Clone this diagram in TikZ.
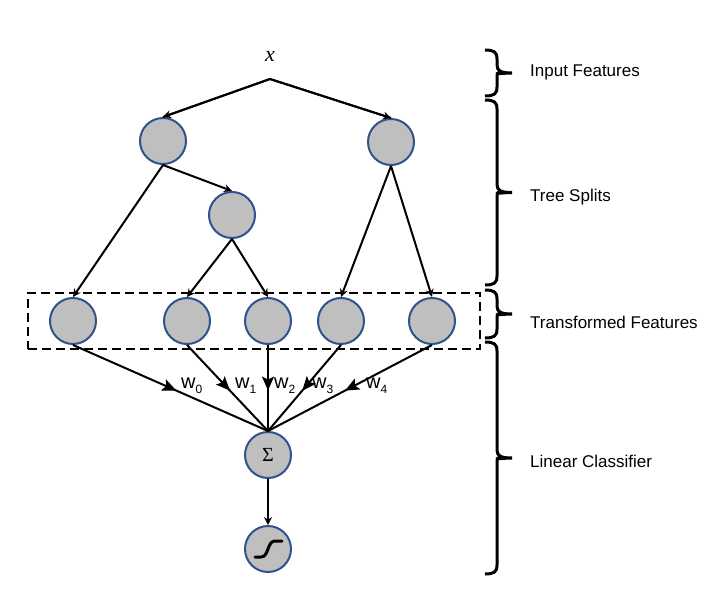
\documentclass[tikz,border=0pt]{standalone}
\usepackage{fontspec}
\setmainfont{Liberation Sans}
\newfontfamily\serifface{Liberation Serif}
\usetikzlibrary{arrows.meta,decorations.markings}
\definecolor{nodefill}{RGB}{191,191,191}
\definecolor{nodeedge}{RGB}{47,82,143}
\newcommand\mybrace[4]{% x, top, bottom, name of tip coordinate
  \pgfmathsetmacro\bmid{(#2+#3)/2}
  \coordinate (#4) at (#1+27,\bmid);
  \draw[bracepath] (#1,#2) .. controls (#1+9,#2) and (#1+12,#2+2) .. (#1+12,#2+9)
    -- (#1+12,\bmid-8) .. controls (#1+12,\bmid-2) and (#1+16,\bmid) .. (#4)
    (#1+12,\bmid-1) .. controls (#1+12,\bmid+2) and (#1+16,\bmid) .. (#4)
    (#1+12,\bmid+1) -- (#1+12,#3-9) .. controls (#1+12,#3-2) and (#1+9,#3) .. (#1,#3);
}
\begin{document}
\begin{tikzpicture}[x=1pt,y=-1pt,
  unit/.style={circle,minimum size=46pt,inner sep=0pt,fill=nodefill,draw=nodeedge,line width=2pt},
  edge/.style={line width=2pt,-{Stealth[length=8pt,width=8pt]}},
  midedge/.style={line width=2pt,postaction={decorate},
     decoration={markings,mark=at position 0.53 with {\arrow{Stealth[length=14pt,width=12pt,inset=3pt]}}}},
  bracepath/.style={line width=3pt},
  sidelabel/.style={anchor=west,font=\fontsize{17}{20}\selectfont,inner sep=0pt},
  wlabel/.style={anchor=west,inner sep=0pt,font=\fontsize{20}{22}\selectfont}
]
\useasboundingbox (0,0) rectangle (720,602);
% input
\node[font=\fontsize{22}{24}\selectfont\serifface\itshape] (x) at (270,56) {x};
\coordinate (split) at (270,79);
% tree nodes
\node[unit] (T1) at (163,141) {};
\node[unit] (T2) at (391,142) {};
\node[unit] (T3) at (232,215) {};
% leaves
\node[unit] (L0) at (73,321) {};
\node[unit] (L1) at (187,321) {};
\node[unit] (L2) at (268,321) {};
\node[unit] (L3) at (341,321) {};
\node[unit] (L4) at (432,321) {};
% classifier
\node[unit,font=\fontsize{20}{22}\selectfont\serifface] (S) at (268,455) {Σ};
\node[unit] (G) at (268,549) {};
\draw[line width=3pt,line cap=round] ([shift={(-13,8)}]G.center) -- ([shift={(-7,8)}]G.center)
  .. controls ([shift={(1,8)}]G.center) and ([shift={(-1,-8)}]G.center) .. ([shift={(7,-8)}]G.center)
  -- ([shift={(14,-8)}]G.center);
% dashed box
\node[draw,dashed,line width=2pt,dash pattern=on 9pt off 5pt,minimum width=452pt,minimum height=56pt,inner sep=0pt] (box) at (254,321) {};
% top edges
\draw[line width=2pt,line join=round] (T1.north) -- (split) -- (T2.north);
\draw[edge] (split) -- (T1.north);
\draw[edge] (split) -- (T2.north);
\draw[edge] (T1.south) -- (L0.north);
\draw[edge] (T1.south) -- (T3.north);
\draw[edge] (T3.south) -- (L1.north);
\draw[edge] (T3.south) -- (L2.north);
\draw[edge] (T2.south) -- (L3.north);
\draw[edge] (T2.south) -- (L4.north);
% weighted edges
\foreach \n in {L0,L1,L2,L3,L4} {\draw[midedge] (\n.south) -- (S.north);}
\draw[edge] (S.south) -- (G.north);
% weights
\node[wlabel] (w0) at (181,386) {w\raisebox{-5pt}{\fontsize{12}{13}\selectfont 0}};
\node[wlabel] (w1) at (235,386) {w\raisebox{-5pt}{\fontsize{12}{13}\selectfont 1}};
\node[wlabel] (w2) at (274,386) {w\raisebox{-5pt}{\fontsize{12}{13}\selectfont 2}};
\node[wlabel] (w3) at (312,386) {w\raisebox{-5pt}{\fontsize{12}{13}\selectfont 3}};
\node[wlabel] (w4) at (366,386) {w\raisebox{-5pt}{\fontsize{12}{13}\selectfont 4}};
% braces
\mybrace{485}{50}{96}{t1}
\mybrace{485}{100}{285}{t2}
\mybrace{485}{290}{338}{t3}
\mybrace{485}{342}{574}{t4}
\node[sidelabel] (l1) at (530,72) {Input Features};
\node[sidelabel] (l2) at (530,197) {Tree Splits};
\node[sidelabel] (l3) at (530,322) {Transformed Features};
\node[sidelabel] (l4) at (530,461) {Linear Classifier};
\end{tikzpicture}
\end{document}
